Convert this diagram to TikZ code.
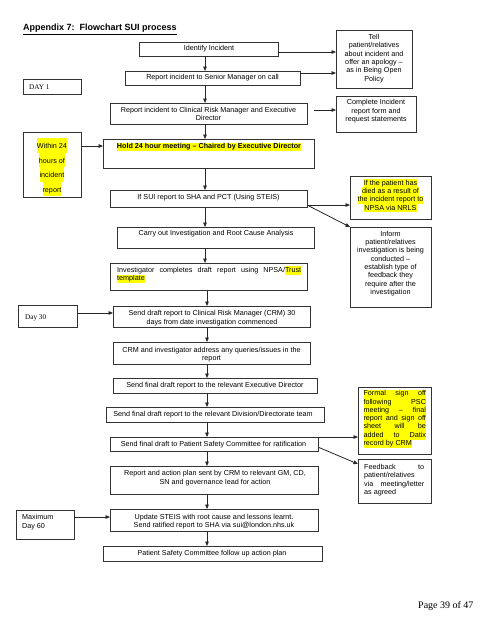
\documentclass[tikz,border=0pt]{standalone}
\usepackage{fontspec}
\setmainfont{Liberation Sans}
\newfontfamily\tnr{Liberation Serif}
\usetikzlibrary{arrows.meta}
\definecolor{hly}{RGB}{255,255,0}
\newcommand\fsz{\fontsize{7.2}{8.3}\selectfont}
\newcommand\hl[1]{{\setlength{\fboxsep}{0pt}\colorbox{hly}{\rule[-2.3pt]{0pt}{8.3pt}#1}}}
\newcommand\hlw[1]{{\setlength{\fboxsep}{0pt}\colorbox{hly}{\rule[-4.3pt]{0pt}{14.7pt}#1}}}
\newcommand\bx[5]{\node[box, minimum width={#4pt-#2pt}, minimum height={#5pt-#3pt}] (#1) at (#2,#3) {};}
\tikzset{
  box/.style={draw=black!80, line width=0.9pt, anchor=north west, inner sep=0pt, outer sep=0pt},
  txt/.style={font=\fsz, align=center, inner sep=0pt},
  ltxt/.style={font=\fsz, align=left, inner sep=0pt, anchor=west},
  serif/.style={font=\tnr\fontsize{7.2}{8.3}\selectfont, inner sep=0pt, anchor=west},
  arr/.style={draw=black!85, line width=0.8pt, -{Triangle[length=4.5pt,width=3.6pt]}},
}
\begin{document}
\begin{tikzpicture}[x=1pt,y=-1pt]
\fill[white] (0,0) rectangle (495,640);
\useasboundingbox (0,0) rectangle (495,640);

% title
\node[anchor=base west, inner sep=0pt, font=\bfseries\fontsize{9}{11}\selectfont] (title) at (23,30.5) {\underline{Appendix 7:\ \ Flowchart SUI process}};

% boxes
\bx{identify}{139}{42}{278}{56}
\bx{senior}{125}{71}{300}{85}
\bx{crm}{110}{103}{307}{124}
\bx{day1}{23}{79}{81}{94}
\bx{tell}{336}{30}{412}{88}
\bx{complete}{336}{96}{416}{132}
\bx{within}{23}{132}{81}{197}
\bx{hold}{103}{139}{314}{168}
\bx{sui}{110}{190}{307}{207}
\bx{npsa}{350}{176}{431}{219}
\bx{inform}{350}{227}{431}{307}
\bx{carry}{117}{227}{314}{248}
\bx{invest}{110}{263}{307}{290}
\bx{day30}{18}{305}{77}{327}
\bx{senddraft}{113}{306}{310}{327}
\bx{crminv}{113}{342}{310}{364}
\bx{finalexec}{113}{378}{317}{393}
\bx{finaldiv}{106}{407}{324}{422}
\bx{psc}{110}{437}{318}{451}
\bx{action}{110}{466}{318}{494}
\bx{steis}{110}{509}{318}{531}
\bx{follow}{103}{546}{322}{561}
\bx{max60}{16}{510}{74}{539}
\bx{formal}{358}{387}{431}{454}
\bx{feedback}{358}{459}{431}{503}

% texts
\node[txt] (t-identify) at (209,49) {Identify Incident};
\node[txt] (t-senior) at (212.5,78) {Report incident to Senior Manager on call};
\node[txt] (t-crm) at (208.5,114) {Report incident to Clinical Risk Manager and Executive\\Director};
\node[serif] (t-day1) at (29,87) {DAY 1};
\node[txt] (t-tell) at (374,58.5) {Tell\\patient/relatives\\about incident and\\offer an apology –\\as in Being Open\\Policy};
\node[txt] (t-complete) at (376,111.2) {Complete Incident\\report form and\\request statements};
\node[txt, anchor=base, font=\fontsize{7.2}{14.7}\selectfont] (t-w1) at (52,148.5) {\hlw{Within 24}};
\node[txt, anchor=base, font=\fontsize{7.2}{14.7}\selectfont] (t-w2) at (52,163) {\hlw{hours of}};
\node[txt, anchor=base, font=\fontsize{7.2}{14.7}\selectfont] (t-w3) at (52,177.5) {\hlw{incident}};
\node[txt, anchor=base, font=\fontsize{7.2}{14.7}\selectfont] (t-w4) at (52,192) {\hlw{report}};
\node[txt] (t-hold) at (209,147) {\hl{\textbf{Hold 24 hour meeting – Chaired by Executive Director}}};
\node[txt] (t-sui) at (208.5,198) {If SUI report to SHA and PCT (Using STEIS)};
\node[txt] (t-npsa) at (390.5,195.7) {\hl{If the patient has}\\\hl{died as a result of}\\\hl{the incident report to}\\\hl{NPSA via NRLS}};
\node[txt] (t-inform) at (390.5,263.5) {Inform\\patient/relatives\\investigation is being\\conducted –\\establish type of\\feedback they\\require after the\\investigation};
\node[txt] (t-carry) at (216,234) {Carry out Investigation and Root Cause Analysis};
\node[ltxt] (t-invest) at (117,274.5) {\makebox[184pt][s]{Investigator completes draft report using NPSA/\hl{Trust}}\\\hl{template}};
\node[serif] (t-day30) at (25,318) {Day 30};
\node[txt] (t-senddraft) at (212,318) {Send draft report to Clinical Risk Manager (CRM) 30\\days from date investigation commenced};
\node[txt] (t-crminv) at (211.5,354.5) {CRM and investigator address any queries/issues in the\\report};
\node[txt] (t-finalexec) at (215,386) {Send final draft report to the relevant Executive Director};
\node[txt] (t-finaldiv) at (213,415) {Send final draft report to the relevant Division/Directorate team};
\node[txt] (t-psc) at (213.5,444.5) {Send final draft to Patient Safety Committee for ratification};
\node[txt] (t-action) at (215,478) {Report and action plan sent by CRM to relevant GM, CD,\\SN and governance lead for action};
\node[txt] (t-steis) at (214,521.5) {Update STEIS with root cause and lessons learnt.\\Send ratified report to SHA via sui@london.nhs.uk};
\node[txt] (t-follow) at (212,554) {Patient Safety Committee follow up action plan};
\node[ltxt] (t-max60) at (22,522) {Maximum\\Day 60};
\node[ltxt] (t-formal) at (363.3,418.8) {\hl{\makebox[62.5pt][s]{Formal sign off}}\\\hl{\makebox[62.5pt][s]{following PSC}}\\\hl{\makebox[62.5pt][s]{meeting – final}}\\\hl{\makebox[62.5pt][s]{report and sign off}}\\\hl{\makebox[62.5pt][s]{sheet will be}}\\\hl{\makebox[62.5pt][s]{added to Datix}}\\\hl{record by CRM}};
\node[ltxt] (t-feedback) at (364,480) {\makebox[60pt][s]{Feedback to}\\patient/relatives\\\makebox[60pt][s]{via meeting/letter}\\as agreed};
\node[anchor=base west, inner sep=0pt, font=\tnr\fontsize{10}{12}\selectfont] (page) at (418,608.5) {Page 39 of 47};

% helper coordinates
\coordinate (ax1) at (205,0);
\coordinate (ax2) at (207,0);
\coordinate (y52) at (0,52);
\coordinate (y73) at (0,73);
\coordinate (y146) at (0,146);
\coordinate (y205) at (0,205);
\coordinate (y313) at (0,313);
\coordinate (y517) at (0,517);
\coordinate (y464) at (0,464);
\coordinate (s3) at (314,110);
\coordinate (s4) at (319,447.5);

% vertical arrows
\draw[arr] (identify.south -| ax1) -- (senior.north -| ax1);
\draw[arr] (senior.south -| ax1) -- (crm.north -| ax1);
\draw[arr] (crm.south -| ax1) -- (hold.north -| ax1);
\draw[arr] (hold.south -| ax1) -- (sui.north -| ax1);
\draw[arr] (sui.south -| ax1) -- (carry.north -| ax1);
\draw[arr] (carry.south -| ax1) -- (invest.north -| ax1);
\draw[arr] (invest.south -| ax2) -- (senddraft.north -| ax2);
\draw[arr] (senddraft.south -| ax2) -- (crminv.north -| ax2);
\draw[arr] (crminv.south -| ax2) -- (finalexec.north -| ax2);
\draw[arr] (finalexec.south -| ax2) -- (finaldiv.north -| ax2);
\draw[arr] (finaldiv.south -| ax2) -- (psc.north -| ax2);
\draw[arr] (psc.south -| ax2) -- (action.north -| ax2);
\draw[arr] (action.south -| ax2) -- (steis.north -| ax2);
\draw[arr] (steis.south -| ax2) -- (follow.north -| ax2);

% side arrows
\draw[arr] (identify.east |- y52) -- (tell.west |- y52);
\draw[arr] (senior.east |- y73) -- (tell.west |- y73);
\draw[arr] (s3) -- (complete.west |- s3);
\draw[arr] (within.east |- y146) -- (hold.west |- y146);
\draw[arr] (sui.east |- y205) -- (npsa.west |- y205);
\draw[arr] (sui.east |- y205) -- (inform.north west);
\draw[arr] (day30.east |- y313) -- (senddraft.west |- y313);
\draw[arr] (max60.east |- y517) -- (steis.west |- y517);
\draw[arr] (psc.north east) -- (formal.west |- psc.north east);
\draw[arr] (s4) -- (feedback.west |- y464);
\end{tikzpicture}
\end{document}
